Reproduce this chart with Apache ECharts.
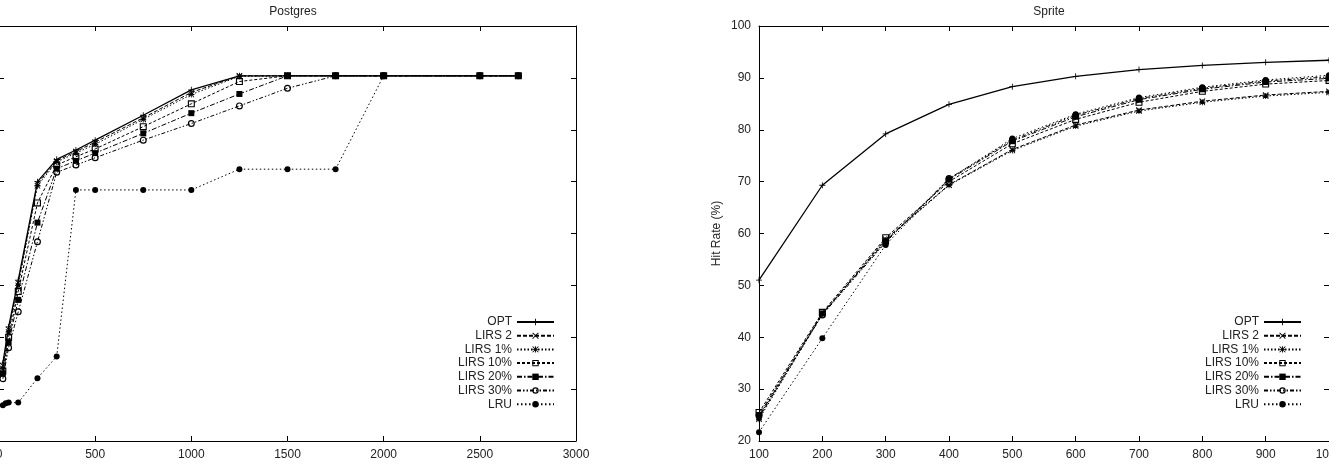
<!DOCTYPE html>
<html>
<head>
<meta charset="utf-8">
<title>Postgres / Sprite hit rates</title>
<script src="https://cdn.jsdelivr.net/npm/echarts@6/dist/echarts.min.js"></script>
<style>
  html, body { margin: 0; padding: 0; background: #fff; }
  #chart { width: 1329px; height: 468px; }
</style>
</head>
<body>
<div id="chart"></div>
<script>
// policy names (legend order)
const policies = ['OPT', 'LIRS 2', 'LIRS 1%', 'LIRS 10%', 'LIRS 20%', 'LIRS 30%', 'LRU']

// Postgres: cache sizes (blocks)
const pgSizes = [20, 50, 100, 200, 300, 400, 500, 750, 1000, 1250, 1500, 1750, 2000, 2500, 2700]
const pgLruSizes = [20, 35, 50, 100, 200, 300, 400, 500, 750, 1000, 1250, 1500, 1750, 2000, 2500, 2700]
const pgOpt = [35.0, 42.0, 51.0, 70.0, 74.3, 76.1, 78.0, 82.8, 87.7, 90.4, 90.4, 90.4, 90.4, 90.4, 90.4]
const pgLirs2 = [34.5, 41.5, 50.5, 69.6, 74.0, 75.8, 77.6, 82.3, 87.2, 90.4, 90.4, 90.4, 90.4, 90.4, 90.4]
const pgLirs1 = [34.0, 41.0, 50.0, 69.2, 73.8, 75.5, 77.2, 82.0, 86.8, 90.3, 90.4, 90.4, 90.4, 90.4, 90.4]
const pgLirs10 = [33.5, 40.0, 48.8, 65.9, 73.2, 74.8, 76.3, 80.6, 85.0, 89.3, 90.4, 90.4, 90.4, 90.4, 90.4]
const pgLirs20 = [33.0, 39.0, 47.2, 62.1, 72.5, 74.0, 75.5, 79.3, 83.2, 86.9, 90.4, 90.4, 90.4, 90.4, 90.4]
const pgLirs30 = [32.0, 38.0, 44.9, 58.4, 71.8, 73.2, 74.6, 78.0, 81.2, 84.6, 88.0, 90.4, 90.4, 90.4, 90.4]
const pgLru = [26.9, 27.3, 27.4, 27.4, 32.1, 36.3, 68.4, 68.4, 68.4, 68.4, 72.4, 72.4, 72.4, 90.4, 90.4, 90.4]

// Sprite: cache sizes
const spSizes = [100, 200, 300, 400, 500, 600, 700, 800, 900, 1000]
const spOpt = [51.0, 69.3, 79.2, 84.9, 88.3, 90.3, 91.6, 92.4, 93.0, 93.4]
const spLirs2 = [24.5, 44.5, 58.9, 69.4, 76.2, 80.9, 83.8, 85.5, 86.7, 87.4]
const spLirs1 = [24.2, 44.4, 58.7, 69.3, 76.0, 80.7, 83.6, 85.3, 86.5, 87.2]
const spLirs10 = [25.5, 44.8, 59.2, 70.0, 77.3, 82.0, 85.3, 87.4, 88.8, 89.5]
const spLirs20 = [25.0, 44.6, 58.5, 70.4, 77.8, 82.5, 85.8, 87.8, 89.2, 89.9]
const spLirs30 = [24.8, 44.3, 58.3, 70.6, 78.0, 82.8, 86.0, 88.0, 89.4, 90.2]
const spLru = [21.7, 39.8, 57.8, 70.5, 78.3, 83.0, 86.2, 88.2, 89.6, 90.5]

// tick labels / ranges
const pgX = { min: 0, max: 3000, interval: 500 }
const spX = { min: 100, max: 1000, interval: 100 }
const hitY = { min: 20, max: 100, interval: 10 }

const font = 'Liberation Sans, Arial, sans-serif'
const ink = '#222'

// gnuplot-like point types
const marks = {
  plus: 'path://M4.3,0H5.7V4.3H10V5.7H5.7V10H4.3V5.7H0V4.3H4.3Z',
  cross: 'path://M0,1L1,0L5,4L9,0L10,1L6,5L10,9L9,10L5,6L1,10L0,9L4,5Z',
  star: 'path://M4.3,0H5.7V4.3H10V5.7H5.7V10H4.3V5.7H0V4.3H4.3Z M0,1L1,0L5,4L9,0L10,1L6,5L10,9L9,10L5,6L1,10L0,9L4,5Z',
  box: 'path://M0,0H10V10H0Z M1.6,1.6V8.4H8.4V1.6Z',
  ring: 'path://M5,0A5,5 0 1,1 5,10A5,5 0 1,1 5,0Z M5,1.7A3.3,3.3 0 1,0 5,8.3A3.3,3.3 0 1,0 5,1.7Z'
}

// line look per policy
const looks = {
  'OPT': { symbol: marks.plus, size: 6, type: 'solid', width: 1.3 },
  'LIRS 2': { symbol: marks.cross, size: 6, type: [4, 2], width: 1 },
  'LIRS 1%': { symbol: marks.star, size: 6, type: [1.5, 2], width: 1 },
  'LIRS 10%': { symbol: marks.box, size: 7, type: [3, 2], width: 1 },
  'LIRS 20%': { symbol: 'rect', size: 6, type: [5, 2, 1.5, 2], width: 1 },
  'LIRS 30%': { symbol: marks.ring, size: 7, type: [4, 2, 1.5, 2, 1.5, 2], width: 1 },
  'LRU': { symbol: 'circle', size: 6, type: [1.5, 2.5], width: 1 }
}

function makeSeries(name, xs, ys, axisIdx) {
  const lk = looks[name]
  return {
    name: name,
    type: 'line',
    xAxisIndex: axisIdx,
    yAxisIndex: axisIdx,
    data: xs.map((x, i) => [x, ys[i]]),
    symbol: lk.symbol,
    symbolSize: lk.size,
    showSymbol: true,
    showAllSymbol: true,
    itemStyle: { color: '#000', borderWidth: 0 },
    lineStyle: { color: '#000', width: lk.width, type: lk.type },
    emphasis: { disabled: true },
    animation: false
  }
}

function frameAxis(gridIndex, range, position, withLabels) {
  return {
    type: 'value',
    gridIndex: gridIndex,
    position: position,
    min: range.min,
    max: range.max,
    interval: range.interval,
    axisLine: { show: true, onZero: false, lineStyle: { color: '#000', width: 1 } },
    axisTick: { show: true, inside: true, length: 5, lineStyle: { color: '#000' } },
    axisLabel: {
      show: withLabels, color: ink, fontSize: 12, fontFamily: font, margin: 8,
      formatter: (v) => String(v)
    },
    splitLine: { show: false }
  }
}

function legendBox(right) {
  return {
    data: policies,
    orient: 'vertical',
    align: 'right',
    right: right,
    top: 316,
    padding: 0,
    itemWidth: 37,
    itemHeight: 8,
    itemGap: 1.7,
    selectedMode: false,
    textStyle: { color: ink, fontSize: 12, fontFamily: font, lineHeight: 12 }
  }
}

let myCharts = echarts.init(document.getElementById('chart'))

let pgY = frameAxis(0, hitY, 'left', true)
pgY.name = 'Hit Rate (%)'
pgY.nameLocation = 'middle'
pgY.nameGap = 36
pgY.nameTextStyle = { color: ink, fontSize: 12, fontFamily: font }

let spY = frameAxis(1, hitY, 'left', true)
spY.name = 'Hit Rate (%)'
spY.nameLocation = 'middle'
spY.nameGap = 36
spY.nameTextStyle = { color: ink, fontSize: 12, fontFamily: font }

let option = {
  animation: false,
  title: [
    { text: 'Postgres', left: 288, top: 1, textAlign: 'center',
      textStyle: { color: ink, fontSize: 12, fontWeight: 'normal', fontFamily: font } },
    { text: 'Sprite', left: 1044, top: 1, textAlign: 'center',
      textStyle: { color: ink, fontSize: 12, fontWeight: 'normal', fontFamily: font } }
  ],
  grid: [
    { left: -1, top: 26, width: 577, height: 415, containLabel: false, outerBoundsMode: 'none' },
    { left: 759, top: 26, width: 570, height: 415, containLabel: false, outerBoundsMode: 'none' }
  ],
  xAxis: [
    frameAxis(0, pgX, 'bottom', true),
    frameAxis(0, pgX, 'top', false),
    frameAxis(1, spX, 'bottom', true),
    frameAxis(1, spX, 'top', false)
  ],
  yAxis: [
    pgY,
    frameAxis(0, hitY, 'right', false),
    spY,
    frameAxis(1, hitY, 'right', false)
  ],
  legend: [legendBox(774), legendBox(27)],
  series: [
    makeSeries('OPT', pgSizes, pgOpt, 0),
    makeSeries('LIRS 2', pgSizes, pgLirs2, 0),
    makeSeries('LIRS 1%', pgSizes, pgLirs1, 0),
    makeSeries('LIRS 10%', pgSizes, pgLirs10, 0),
    makeSeries('LIRS 20%', pgSizes, pgLirs20, 0),
    makeSeries('LIRS 30%', pgSizes, pgLirs30, 0),
    makeSeries('LRU', pgLruSizes, pgLru, 0),
    makeSeries('OPT', spSizes, spOpt, 2),
    makeSeries('LIRS 2', spSizes, spLirs2, 2),
    makeSeries('LIRS 1%', spSizes, spLirs1, 2),
    makeSeries('LIRS 10%', spSizes, spLirs10, 2),
    makeSeries('LIRS 20%', spSizes, spLirs20, 2),
    makeSeries('LIRS 30%', spSizes, spLirs30, 2),
    makeSeries('LRU', spSizes, spLru, 2)
  ]
}
myCharts.setOption(option)
</script>
</body>
</html>
